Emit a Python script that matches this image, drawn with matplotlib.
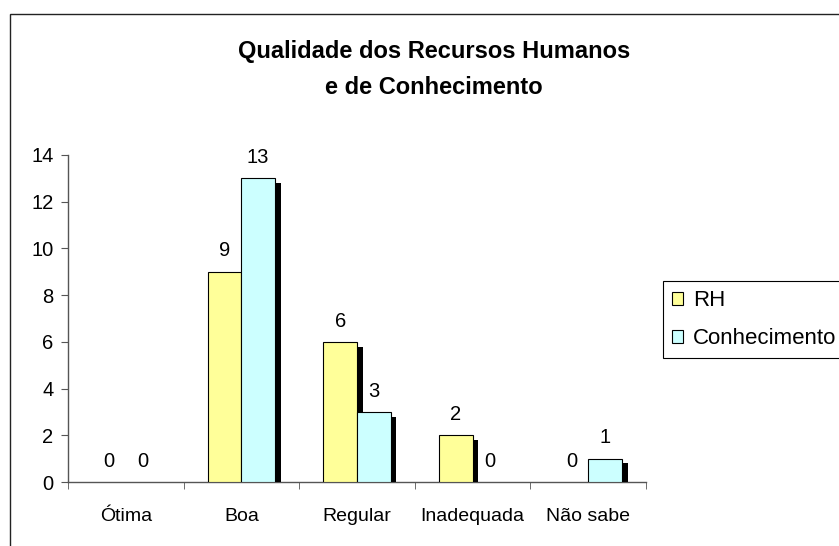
import matplotlib
matplotlib.use("Agg")
import matplotlib.pyplot as plt
import matplotlib.patheffects as pe
from matplotlib.patches import Rectangle
import numpy as np

plt.rcParams["font.family"] = ["Liberation Sans", "DejaVu Sans"]

# Dados
categorias = ["Ótima", "Boa", "Regular", "Inadequada", "Não sabe"]
rh = [0, 9, 6, 2, 0]
conhecimento = [0, 13, 3, 0, 1]
series = ["RH", "Conhecimento"]
cores = ["#FFFF99", "#CCFFFF"]
titulo = "Qualidade dos Recursos Humanos\ne de Conhecimento"

fig = plt.figure(figsize=(8.39, 5.46), dpi=100)
ax = fig.add_axes([0.081, 0.1172, 0.689, 0.599])

x = np.arange(len(categorias))
largura = 0.29
sombra = [pe.SimplePatchShadow(offset=(4.2, -3.4), shadow_rgbFace="black", alpha=1.0), pe.Normal()]

barras = []
for i, (valores, cor, nome) in enumerate(zip([rh, conhecimento], cores, series)):
    pos = x + (i - 0.5) * largura
    b = ax.bar(pos, valores, width=largura, color=cor, edgecolor="black",
               linewidth=0.8, label=nome, zorder=3)
    for rect, v in zip(b, valores):
        if v > 0:
            rect.set_path_effects(sombra)
        else:
            rect.set_linewidth(0)
        ax.annotate(str(v), (rect.get_x() + rect.get_width() / 2, v),
                    xytext=(0, 11), textcoords="offset points",
                    ha="center", va="baseline", fontsize=14.5)
    barras.append(b)

ax.set_xlim(-0.5, len(categorias) - 0.5)
ax.set_ylim(0, 14)
ax.set_yticks(range(0, 15, 2))

ax.set_xticks(x)
ax.set_xticklabels(categorias, fontsize=14)
ax.set_xticks(np.arange(-0.5, len(categorias), 1), minor=True)
ax.tick_params(axis="x", which="major", length=0, pad=28)
ax.tick_params(axis="x", which="minor", length=5, direction="out", color="#555555")
ax.tick_params(axis="y", length=5, direction="out", pad=5.5, labelsize=14.5, color="#555555")
for lbl in ax.get_xticklabels():
    lbl.set_va("baseline")

for lado in ["top", "right"]:
    ax.spines[lado].set_visible(False)
for lado in ["left", "bottom"]:
    ax.spines[lado].set_color("#555555")
    ax.spines[lado].set_linewidth(1)

fig.text(0.517, 0.926, titulo, ha="center", va="top", fontsize=17,
         fontweight="bold", linespacing=1.7)

leg = fig.legend(handles=barras, labels=series, loc="upper left",
                 bbox_to_anchor=(0.790, 0.485), fontsize=16, frameon=True,
                 fancybox=False, edgecolor="black", framealpha=1,
                 handlelength=0.52, handleheight=0.52, handletextpad=0.45,
                 labelspacing=0.76, borderpad=0.4, borderaxespad=0)
leg.get_frame().set_linewidth(0.8)
for h in leg.legend_handles:
    h.set_path_effects([])
    h.set_linewidth(0.8)

# moldura do gráfico (cortada à direita e embaixo)
fig.add_artist(Rectangle((10 / 839, -0.1), 1.2, 1 - 14 / 546 + 0.1,
                         transform=fig.transFigure, fill=False,
                         edgecolor="#222222", linewidth=1))

fig.savefig("out.png", dpi=100)
